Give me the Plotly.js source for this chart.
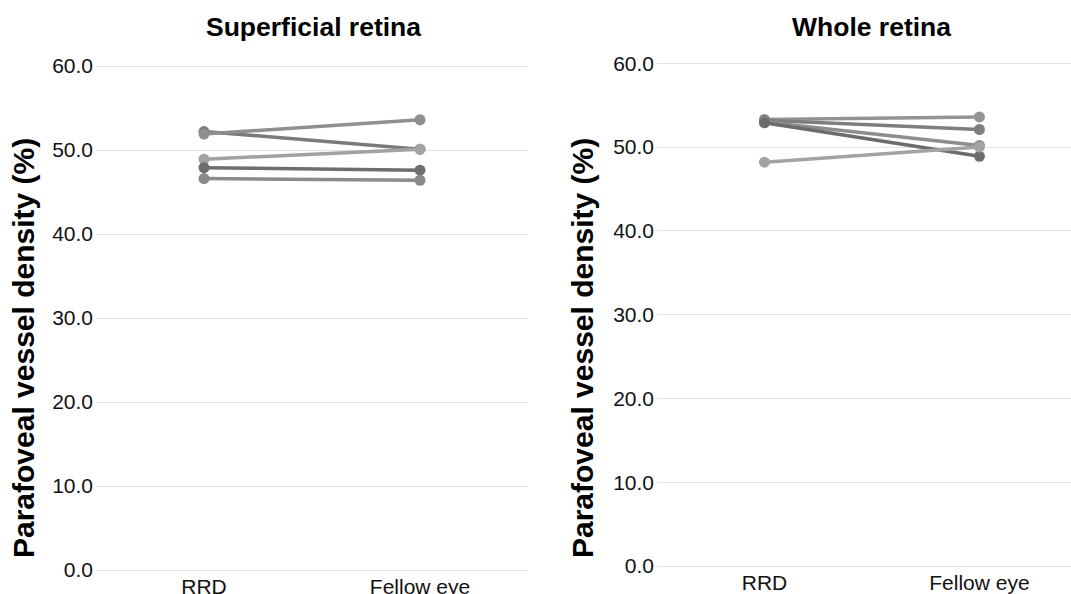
<!DOCTYPE html>
<html>
<head>
<meta charset="utf-8">
<script src="https://cdn.plot.ly/plotly-3.0.1.min.js"></script>
<style>html,body{margin:0;padding:0;background:#fff;}#chart{width:1071px;height:594px;}</style>
</head>
<body>
<div id="chart"></div>
<script>
const categories = ["RRD", "Fellow eye"];
const yTickVals = [0, 10, 20, 30, 40, 50, 60];
const yTickText = ["0.0", "10.0", "20.0", "30.0", "40.0", "50.0", "60.0"];

// Superficial retina (RRD, Fellow eye)
const sup1 = [52.2, 50.1];
const sup2 = [51.9, 53.6];
const sup3 = [48.9, 50.1];
const sup4 = [47.9, 47.6];
const sup5 = [46.6, 46.4];

// Whole retina (RRD, Fellow eye)
const whole1 = [53.3, 53.6];
const whole2 = [53.2, 52.1];
const whole3 = [53.0, 50.2];
const whole4 = [52.9, 48.9];
const whole5 = [48.2, 50.0];

const supSeries = [sup1, sup2, sup3, sup4, sup5];
const wholeSeries = [whole1, whole2, whole3, whole4, whole5];
const supColors = ["#7a7a7a", "#8f8f8f", "#a2a2a2", "#6e6e6e", "#8a8a8a"];
const wholeColors = ["#939393", "#7e7e7e", "#8d8d8d", "#6c6c6c", "#a3a3a3"];

const traces = [];
supSeries.forEach((s, i) => traces.push({
  x: categories, y: s, type: "scatter", mode: "lines+markers",
  xaxis: "x", yaxis: "y",
  line: {color: supColors[i], width: 3.5},
  marker: {color: supColors[i], size: 11},
  showlegend: false, hoverinfo: "skip"
}));
wholeSeries.forEach((s, i) => traces.push({
  x: categories, y: s, type: "scatter", mode: "lines+markers",
  xaxis: "x2", yaxis: "y2",
  line: {color: wholeColors[i], width: 3.5},
  marker: {color: wholeColors[i], size: 11},
  showlegend: false, hoverinfo: "skip"
}));

const W = 1071, H = 594;
const yLo = -1, yHi = 60.5;
// pixel positions of 0 and 60 in each panel
function yDomain(p0, p60) {
  const k = (p0 - p60) / 60;
  const bottom = p0 - yLo * k;
  const top = p60 - (yHi - 60) * k;
  return [(H - bottom) / H, (H - top) / H];
}
const tickFont = {family: "Liberation Sans, Arial, sans-serif", size: 21, color: "#111"};
const yax = (dom) => ({
  domain: dom, range: [yLo, yHi], tickvals: yTickVals, ticktext: yTickText,
  showgrid: true, gridcolor: "#e2e2e2", gridwidth: 1, zeroline: false,
  showline: false, ticks: "", tickfont: tickFont, fixedrange: true,
  ticklabelstandoff: 2
});
const xax = (dom, range, anchor) => ({
  domain: dom, range: range, type: "category", anchor: anchor,
  showgrid: false, zeroline: false, showline: false, ticks: "",
  tickfont: tickFont, fixedrange: true, ticklabelstandoff: -6
});

const titleFont = {family: "Liberation Sans, Arial, sans-serif", size: 26.5, color: "#000", weight: "bold"};
const axTitleFont = {family: "Liberation Sans, Arial, sans-serif", size: 30, color: "#000", weight: "bold"};

const layout = {
  width: W, height: H,
  margin: {l: 0, r: 0, t: 0, b: 0},
  paper_bgcolor: "#fff", plot_bgcolor: "#fff",
  xaxis: xax([96 / W, 528 / W], [-0.5, 1.5], "y"),
  yaxis: yax(yDomain(570, 66)),
  xaxis2: xax([657 / W, 1], [-0.5, 1.426], "y2"),
  yaxis2: Object.assign(yax(yDomain(566, 63.3)), {anchor: "x2"}),
  annotations: [
    {text: "<b>Superficial retina</b>", xref: "paper", yref: "paper", x: 313 / W, y: (H - 27) / H,
     xanchor: "center", yanchor: "middle", showarrow: false, font: titleFont},
    {text: "<b>Whole retina</b>", xref: "paper", yref: "paper", x: 871 / W, y: (H - 27) / H,
     xanchor: "center", yanchor: "middle", showarrow: false, font: titleFont},
    {text: "<b>Parafoveal vessel density (%)</b>", xref: "paper", yref: "paper", x: 23 / W, y: (H - 348) / H,
     xanchor: "center", yanchor: "middle", textangle: -90, showarrow: false, font: axTitleFont},
    {text: "<b>Parafoveal vessel density (%)</b>", xref: "paper", yref: "paper", x: 582 / W, y: (H - 348) / H,
     xanchor: "center", yanchor: "middle", textangle: -90, showarrow: false, font: axTitleFont}
  ]
};

Plotly.newPlot("chart", traces, layout, {displayModeBar: false, staticPlot: true});
</script>
</body>
</html>
